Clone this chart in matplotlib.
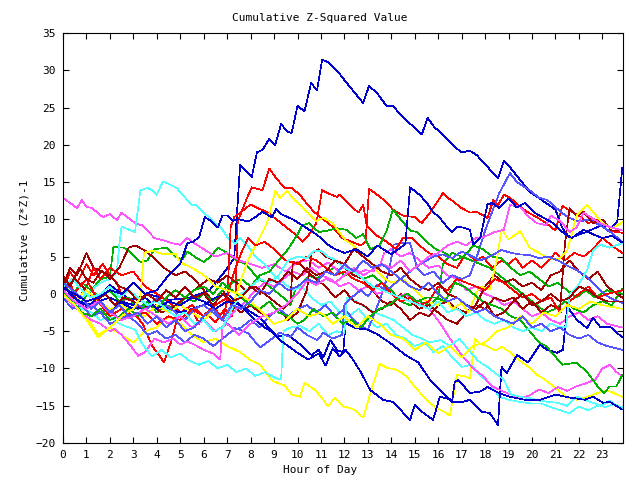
import matplotlib
matplotlib.use("Agg")
import matplotlib.pyplot as plt

# gnuplot-ish colours
RED = "#ff0000"
GREEN = "#00b000"
BLUE = "#0000cc"
MAGENTA = "#ff55ff"
CYAN = "#55ffff"
DARKRED = "#a00000"
YELLOW = "#ffff00"
LIGHTBLUE = "#5555ff"

# (hour, cumulative value)
blue_peak = [(0, 0.5), (0.5, -0.8), (1.15, -1.5), (2, 1.2), (2.85, -0.8), (3.7, -0.1), (4.55, -0.8),
             (5.4, -0.5), (6.25, 0.5), (6.9, 3), (7.3, 4.8), (7.55, 17.3), (8.05, 15.7), (8.27, 19),
             (8.5, 19.3), (8.8, 20.8), (9.05, 20), (9.3, 22.8), (9.55, 21.8), (9.75, 21.6), (10.0, 25.2),
             (10.3, 24.5), (10.58, 28.3), (10.83, 27.3), (11.05, 31.4), (11.3, 31.1), (11.8, 29.5),
             (12.1, 28.3), (12.8, 25.6), (13.05, 27.9), (13.4, 26.9), (13.8, 25.2), (14.07, 25.2),
             (14.5, 23.7), (15.3, 21.4), (15.55, 23.6), (15.85, 22.3), (16.07, 21.8), (16.7, 19.7),
             (17.0, 19), (17.35, 19.2), (17.65, 18.6), (18.55, 15.5), (18.8, 17.8), (19.06, 17),
             (19.9, 13.7), (20.64, 12.1), (21.0, 11.3), (21.3, 8.8), (21.6, 7.5), (22.3, 8.3),
             (22.9, 9.1), (23.4, 9), (23.63, 9.6), (23.85, 16.9)]

blue_low = [(0, 0.3), (1, -1.5), (2, -0.5), (3, -2), (4, -1.5), (5, -2.5), (6, -1.5), (6.5, -0.5), (7, 0),
            (7.55, -1.5), (8.1, -3.2), (8.6, -4.5), (9.2, -5.7), (9.6, -5.5), (10.2, -7), (10.6, -8.2),
            (10.9, -7.5), (11.1, -8.5), (11.4, -6.2), (11.7, -7.6), (11.95, -7.8), (12.05, -3.9),
            (12.5, -4.6), (13.0, -4.8), (13.4, -5.4), (14.0, -6.7), (14.6, -8.2), (15.15, -9.2),
            (15.65, -11.5), (16.2, -13.3), (16.6, -14.5), (17.05, -14.5), (17.35, -14.2), (17.87, -15.8),
            (18.2, -16), (18.55, -17.6), (18.7, -9.8), (18.93, -10.6), (19.36, -8.2), (19.83, -9.2),
            (20.34, -6.8), (20.64, -7.5), (21.07, -7.9), (21.32, -7.5), (21.5, -1.7), (21.92, -3.5),
            (22.35, -4.6), (22.6, -3.2), (22.9, -4.4), (23.33, -4.4), (23.84, -5.8)]

blue_bottom = [(0, 1), (0.5, -0.5), (1, -2), (1.5, -1), (2, -2.5), (2.5, -1), (3, -1.5), (3.5, -0.5),
               (4, -2), (4.5, -1), (5, -1.5), (5.5, -0.5), (6, -1), (6.5, -2), (7, -1), (7.55, -1.5),
               (8.4, -3.2), (9.25, -6.2), (10, -7.9), (10.45, -8.8), (10.9, -8.0), (11.2, -9.6),
               (11.5, -7.3), (11.8, -8.4), (12.05, -7.5), (12.3, -8.5), (12.7, -10.5), (13.1, -12.9),
               (13.65, -14.2), (14.07, -14.5), (14.8, -16.9), (15.0, -14.9), (15.3, -15.8), (15.78, -16.9),
               (16.07, -13.8), (16.6, -14.2), (16.7, -11.9), (16.85, -11.5), (17.35, -13.3), (17.8, -13.1),
               (18.1, -12.5), (18.6, -13.3), (19.05, -13.8), (19.7, -14.2), (20.35, -14.2), (21, -13.5),
               (21.6, -13.9), (22.25, -14.2), (22.6, -13.8), (23.03, -14.6), (23.33, -14.5), (23.84, -15.5)]

blue_mid = [(0, 0.8), (0.5, 0), (1, -1), (1.5, -0.5), (2, 0.5), (2.5, 0), (3, 1.5), (3.5, 0), (4, 0.5),
            (4.5, 2.5), (5, 4), (5.3, 6.8), (5.55, 7), (5.8, 7.6), (6.05, 10.3), (6.35, 9.7), (6.6, 8.9),
            (6.8, 10.5), (7.0, 10.5), (7.25, 9.8), (7.5, 10), (7.9, 9.7), (8.2, 10.3), (8.5, 11), (8.9, 10.3),
            (9.1, 11.4), (9.3, 10.7), (9.8, 10), (10.25, 9.1), (10.7, 8.2), (11.05, 7.4), (11.25, 6.7),
            (11.6, 6), (12.0, 5.5), (12.5, 6), (13, 5), (13.4, 6.5), (14.0, 5.3), (14.6, 6.7), (14.8, 14.3),
            (15.2, 13.3), (15.5, 12.3), (15.78, 11), (16.07, 10.2), (16.4, 8.9), (16.6, 8.3), (16.8, 9.0),
            (17.05, 8.9), (17.35, 8.6), (17.5, 6.6), (17.8, 7.6), (18.1, 12), (18.3, 12.2), (18.6, 11.5),
            (19.0, 12.8), (19.35, 11.6), (19.7, 12.2), (20.1, 10.9), (20.5, 10.2), (20.9, 9.5), (21.3, 8.3),
            (21.7, 7.5), (22.2, 8.6), (22.6, 8.0), (23.0, 7.5), (23.4, 7.8), (23.85, 6.9)]

red_high = [(0, 0.3), (0.3, 3), (0.6, 1.5), (1.0, 4), (1.3, 2.5), (1.7, 4), (2.0, 2.5), (2.3, 1.5), (2.6, -1),
            (3.0, -2.5), (3.4, -4), (3.8, -7), (4.1, -8.2), (4.3, -9.2), (4.6, -6.5), (4.9, -3), (5.2, -3.5),
            (5.5, -2), (5.8, -4), (6.1, -2.5), (6.5, -3.8), (6.9, -2), (7.2, -3), (7.35, -1), (7.45, 9.7),
            (7.85, 12.9), (8.05, 14.3), (8.5, 13.9), (8.8, 16.8), (9.1, 15.5), (9.45, 14.2), (9.75, 14.2),
            (10.1, 13.3), (10.5, 11.7), (10.75, 10.9), (11.1, 10), (11.5, 9), (11.9, 7.5), (12.3, 7),
            (12.7, 6.5), (12.9, 7), (13.05, 14.1), (13.4, 13.3), (13.8, 12.3), (14.07, 11.3), (14.5, 10.5),
            (15.0, 10.3), (15.3, 9.5), (15.65, 10.9), (16.2, 13.5), (16.4, 12.9), (16.7, 12.3), (16.9, 11.7),
            (17.35, 10.9), (17.65, 11), (18.1, 10.2), (18.35, 12.6), (18.55, 11.9), (18.8, 13.3),
            (19.06, 12.9), (19.5, 11.7), (19.8, 11), (20.2, 10.3), (20.6, 9.5), (21.0, 8.5), (21.3, 11.8),
            (21.7, 11), (22.0, 10.5), (22.4, 9.5), (22.8, 10), (23.2, 8.5), (23.85, 8.2)]

red_mid = [(0, 0), (0.3, 1.5), (0.6, -1), (1, 1), (1.3, 3.5), (1.6, 2), (2, 3.5), (2.5, 2.5), (3, 3),
           (3.5, 1), (4, 0), (4.5, -1), (5, -2.5), (5.5, -1.5), (6, -3), (6.5, -2), (6.8, -3.5), (7.0, -1),
           (7.15, 9), (7.3, 10.3), (7.6, 11), (8.0, 12), (8.3, 11.5), (8.7, 11), (9.1, 10), (9.5, 9),
           (9.9, 8), (10.2, 7), (10.5, 8), (10.8, 9.5), (11.05, 13.9), (11.3, 13.5), (11.7, 13),
           (11.8, 13.3), (12.24, 11.9), (12.6, 10.9), (12.8, 11.9), (12.95, 9.2), (13.3, 8), (13.8, 7),
           (14.2, 6), (14.5, 7.5), (14.9, 7.5), (15.2, 6.5), (15.6, 5.5), (16, 5), (16.4, 4), (16.8, 3.5),
           (17.2, 5.5), (17.6, 4.5), (17.9, 5), (18.3, 3.5), (18.7, 4.5), (19.0, 4), (19.3, 4.8),
           (19.6, 3.5), (20.0, 4.5), (20.4, 3.5), (20.7, 4.5), (21.0, 5.5), (21.4, 4.5), (21.8, 5.5),
           (22.2, 5), (22.6, 6), (23.0, 7.5), (23.4, 6.5), (23.85, 5.5)]

red_low = [(0, 0.5), (0.3, -1), (0.6, 0.5), (1, 2), (1.5, -1), (2, -3), (2.5, -2), (3, -3), (3.5, -2.5),
           (4, -4), (4.5, -3), (5, -3.5), (5.5, -2), (6, -3), (6.5, -1.5), (7, -0.5), (7.3, 3), (7.6, 5.5),
           (7.9, 7.5), (8.2, 6.5), (8.6, 7), (9, 6), (9.5, 4.5), (10, 4), (10.4, 5), (10.8, 4.5),
           (11.2, 3.5), (11.6, 2.5), (12, 3), (12.4, 2), (12.8, 1.5), (13.2, 0.5), (13.6, 1.5), (14, 0),
           (14.4, -1), (14.8, -0.5), (15.2, -1.5), (15.6, -1), (16.0, 1), (16.4, 0.5), (16.8, 2),
           (17.2, 1.5), (17.6, 1), (18, 0.5), (18.4, 2), (18.8, 1.5), (19.2, 0.5), (19.6, -0.5), (20, 0),
           (20.4, -1), (20.8, -0.5), (21.2, -2.5), (21.6, -1), (22, 0), (22.4, 1), (22.8, -0.5), (23.2, 0),
           (23.85, 0.5)]

darkred_a = [(0, 1), (0.3, 3.5), (0.6, 2.5), (1, 5.5), (1.3, 3.5), (1.7, 3), (2, 2), (2.4, 3.5), (2.8, 6.2),
             (3.1, 6.5), (3.5, 5.8), (3.9, 4.8), (4.3, 3.5), (4.8, 2.5), (5.2, 3), (5.6, 2), (6, 0.5),
             (6.4, -1), (6.8, 0.5), (7.2, -1.5), (7.6, -2.5), (8.0, -1.5), (8.4, -2.5), (8.8, -3),
             (9.2, -2), (9.6, -3.5), (10, -2.5), (10.4, 0.5), (10.6, 5.5), (10.9, 6), (11.2, 5), (11.6, 4.5),
             (12, 3.5), (12.4, 2.5), (12.8, 2), (13.2, 0.5), (13.6, -1), (14, -1.5), (14.4, 0), (14.8, -1),
             (15.2, -2), (15.6, -1.5), (16, -2.5), (16.4, -3.5), (16.8, -4), (17.2, -2.5), (17.6, -1.5),
             (18, 1), (18.4, 2.5), (18.8, 1.5), (19.2, 2), (19.6, 1), (20, 1.5), (20.4, 0.5), (20.8, 2.5),
             (21.2, 3), (21.6, 4.5), (22, 3), (22.4, 2), (22.8, 3), (23.2, 1), (23.85, -0.5)]

darkred_b = [(0, 0.5), (0.5, 2), (1, 0.5), (1.4, -1), (1.8, 0), (2.2, -1.5), (2.6, -0.5), (3, -1), (3.4, -2),
             (3.8, -1.5), (4.2, -2.5), (4.6, -2), (5, -1), (5.4, 0), (5.8, 1), (6.2, 2), (6.6, 1.5), (7, 2.5),
             (7.4, 1.5), (7.8, 0.5), (8.2, 1), (8.6, 0), (9, -1), (9.4, -2), (9.7, -1), (9.8, 4.3), (10.1, 4),
             (10.4, 3), (10.8, 2), (11.2, 1), (11.6, -0.5), (12, 0.5), (12.4, -1), (12.8, -1.5), (13.2, -2.5),
             (13.6, -2), (14, -1), (14.4, -2), (14.8, -3.5), (15.2, -2.5), (15.6, -3), (16, -1.5),
             (16.4, -1), (16.8, -2), (17.2, -2.5), (17.6, -1.5), (18, -2), (18.4, -0.5), (18.8, -1),
             (19.2, -0.5), (19.6, -2), (20, -1), (20.4, -2.5), (20.8, -1.5), (21.2, -2), (21.4, 6.6),
             (21.6, 11.5), (21.9, 10.5), (22.2, 11), (22.6, 9.5), (23, 10), (23.4, 8.5), (23.85, 8.5)]

darkred_c = [(0, 2.5), (0.3, 1), (0.7, 3.5), (1, 2), (1.3, 1.5), (1.6, 3), (2, 2.5), (2.4, 1), (2.8, 0.5),
             (3.2, -1), (3.6, 0), (4, -1), (4.4, 0.5), (4.8, -0.5), (5.2, 1), (5.6, -0.5), (6, 0), (6.4, -1.5),
             (6.8, 0), (7.2, -1), (7.6, -0.5), (8, 1), (8.4, 0), (8.8, 2), (9.2, 1.5), (9.6, 3), (10, 2),
             (10.4, 3.5), (10.8, 2.5), (11.2, 3), (11.6, 4.5), (12, 4), (12.4, 6), (12.8, 5), (13.2, 4),
             (13.6, 3), (14, 2.5), (14.4, 3.5), (14.8, 2), (15.2, 1), (15.6, 0.5), (16, 1.5), (16.4, 0),
             (16.8, -0.5), (17.2, -1.5), (17.6, -2), (18, -1), (18.4, -3), (18.8, -2.5), (19.2, -1),
             (19.6, 0), (20, -1.5), (20.4, -1), (20.8, 0), (21.2, -1), (21.6, -0.5), (22, 1), (22.4, 0.5),
             (22.8, -0.5), (23.2, -1), (23.85, -1)]

green_a = [(0, 0), (0.4, -1.5), (0.8, -1), (1.2, 0.5), (1.6, 2), (2.0, 2.3), (2.15, 6.3), (2.6, 6.2),
           (2.9, 5.5), (3.3, 4.3), (3.6, 4.5), (3.9, 6), (4.4, 6.2), (4.8, 5), (5.1, 4.6), (5.3, 5.7),
           (5.7, 4.8), (6.0, 4.3), (6.3, 5), (6.6, 6.2), (7, 5.5), (7.4, 4.5), (7.8, 4), (8.2, 2.5),
           (8.6, 1.5), (9, 0.5), (9.4, -0.5), (9.7, -1.5), (9.9, 0.5), (10.2, 1.5), (10.5, 2.5), (10.8, 2),
           (11.2, 3), (11.6, 3.5), (12, 2.5), (12.4, 3), (12.8, 2), (13.2, 2.5), (13.6, 1.5), (14, 0.5),
           (14.4, -1), (14.8, -1.5), (15.2, -1), (15.6, -1.5), (16, -0.5), (16.2, 4), (16.6, 5.5), (17, 5),
           (17.4, 4.5), (17.8, 4), (18.2, 3.5), (18.6, 2.5), (19, 1.5), (19.4, 0.5), (19.8, -0.5),
           (20.2, -1.5), (20.6, -2.5), (21.0, -2), (21.4, -1), (21.8, -2), (22.2, -2.5), (22.6, -1.5),
           (23, -1), (23.4, -1.5), (23.85, 0.7)]

green_b = [(0, 1), (0.4, 0), (0.8, 1.5), (1.2, 0.5), (1.6, -0.5), (2, 0.5), (2.4, -1), (2.8, -0.5), (3.2, -2),
           (3.6, -1), (4, -2.5), (4.4, -1.5), (4.8, -2), (5.2, -0.5), (5.6, -1), (6, 0), (6.4, -1),
           (6.8, 0.5), (7.2, 1.5), (7.6, 2), (8, 1), (8.4, 2.5), (8.8, 3), (9.2, 4.5), (9.6, 6), (10, 8),
           (10.2, 9.2), (10.5, 9.5), (10.9, 8.3), (11.3, 8.5), (11.7, 8.8), (12.1, 8.6), (12.5, 7.5),
           (12.8, 8), (13.1, 6), (13.5, 6.5), (13.8, 8.5), (14.07, 11.3), (14.4, 10), (14.8, 8.5),
           (15.1, 8.3), (15.5, 7), (15.9, 6), (16.3, 5.5), (16.7, 4.5), (17.1, 5), (17.5, 6.5), (17.9, 6),
           (18.3, 5), (18.7, 4.8), (19.1, 3.5), (19.5, 2.5), (19.9, 3), (20.3, 2), (20.7, 1), (21.1, 1.5),
           (21.5, 0.5), (21.9, -0.5), (22.3, 0.5), (22.7, -0.5), (23.2, 0.5), (23.85, 0)]

green_c = [(0, 0.5), (0.4, -1), (0.8, -2.5), (1.2, -3), (1.6, -2), (2, -3.5), (2.4, -3), (2.8, -2), (3.2, -3),
           (3.6, -1), (4, -2), (4.4, -0.5), (4.8, 0.5), (5.2, -0.5), (5.6, 0.5), (6, 1), (6.4, 0), (6.8, 1.5),
           (7.2, 0.5), (7.6, -0.5), (8.0, -1.5), (8.4, -2), (8.8, -1), (9.2, -2.5), (9.6, -3), (10, -4),
           (10.3, -3.5), (10.7, -2), (11.1, -3), (11.5, -2.5), (11.9, -4), (12.3, -3.5), (12.7, -4.5),
           (13.1, -3), (13.5, -2), (13.9, -1.5), (14.3, -0.5), (14.7, 0), (15.1, -1), (15.5, -0.5),
           (15.9, -0.5), (16.3, -1), (16.7, 1.5), (17.1, 1), (17.5, 0), (17.9, -1), (18.3, -1.5), (18.7, -2),
           (19.1, -3), (19.5, -3.5), (19.9, -5), (20.3, -6.5), (20.6, -7), (21.1, -8.8), (21.3, -9.5),
           (21.9, -9.2), (22.35, -10.5), (22.8, -12.4), (23.05, -13.3), (23.33, -12.4), (23.6, -12.4),
           (23.84, -10.9)]

magenta_top = [(0, 12.9), (0.6, 11.5), (0.8, 12.6), (1, 11.7), (1.24, 11.5), (1.7, 10.3), (2, 10.7),
               (2.3, 9.9), (2.5, 10.9), (3.07, 9.5), (3.37, 9.2), (3.9, 7.5), (4.26, 7.2), (4.65, 6.8),
               (5, 6.6), (5.3, 7.5), (5.5, 7), (6, 6), (6.5, 5), (7, 5.5), (7.5, 4.5), (8, 4), (8.5, 3.5),
               (9, 4), (9.5, 3), (10, 4.3), (10.5, 4.5), (10.9, 3.5), (11.3, 4.2), (11.7, 3.2), (12.1, 3.6),
               (12.6, 2.8), (12.9, 3.2), (13.2, 3), (13.5, 3.6), (13.7, 5.5), (14.0, 6), (14.4, 5), (14.8, 5.5),
               (15.2, 4.5), (15.6, 3.5), (16, 3.8), (16.4, 2.5), (16.8, 2), (17.2, 0.5), (17.6, 1), (18, 0),
               (18.4, -0.5), (18.8, -1.5), (19.2, -1), (19.6, -2), (20, -3), (20.4, -2.5), (20.8, -3.5),
               (21.2, -4), (21.6, -3), (22, -2.5), (22.4, -3.5), (22.8, -3), (23.2, -4), (23.85, -4.5)]

magenta_low = [(0, 0), (0.4, -1.5), (0.8, -2.5), (1.2, -3.5), (1.6, -4), (2, -5), (2.2, -4.7), (2.5, -5.5),
               (2.9, -7), (3.2, -8.3), (3.5, -7.8), (3.9, -6), (4.3, -6.5), (4.7, -6), (5.0, -6.8),
               (5.3, -6.4), (5.6, -6.8), (6, -7.5), (6.4, -8), (6.7, -8.8), (6.8, -4.5), (7.0, -3.5),
               (7.4, -2), (7.8, -1), (8.2, 0.5), (8.6, 1.5), (9, 1), (9.4, 2), (9.8, 3), (10.2, 2.5),
               (10.6, 3.5), (11, 2.5), (11.4, 2), (11.8, 1), (12.2, 1.5), (12.6, 0.5), (13, 1), (13.4, 0),
               (13.8, 0.5), (14.2, -0.5), (14.6, 0), (15, -1), (15.65, -2.1), (16.1, -4), (16.5, -6),
               (17.0, -8.2), (17.5, -10), (17.9, -11), (18.3, -12.4), (18.7, -13), (19.1, -13.5), (19.5, -14),
               (19.9, -13.6), (20.3, -12.8), (20.7, -13.3), (21.1, -12.5), (21.5, -13), (21.9, -12.4),
               (22.3, -12), (22.7, -11.5), (23.0, -10), (23.33, -9.5), (23.6, -10.5), (23.84, -11)]

magenta_rise = [(0, 0.5), (0.5, -1), (1, -2), (1.5, -1), (2, -2.5), (2.5, -3.5), (3, -3), (3.5, -2), (4, -3),
                (4.5, -4), (5, -3), (5.5, -4.5), (6, -3.5), (6.5, -5), (7, -4), (7.5, -5.5), (8, -4),
                (8.5, -3), (9, -2.5), (9.5, -1.5), (10, 0), (10.4, 1.8), (10.8, 1.2), (11.2, 2), (11.6, 1.5),
                (12, 2.5), (12.4, 3.5), (12.8, 2.5), (13.2, 3.2), (13.6, 4), (14, 3.5), (14.4, 4.5), (14.8, 3),
                (15.2, 4), (15.6, 5), (16, 5.5), (16.4, 6.5), (16.8, 7), (17.2, 6.5), (17.6, 7.5), (18, 7.7),
                (18.4, 8.3), (18.8, 8.6), (19.06, 11.9), (19.5, 11.7), (19.8, 10.5), (20.2, 9.5), (20.6, 9.2),
                (20.8, 10.5), (21.2, 9.8), (21.6, 8.3), (21.9, 8.9), (22.2, 10.9), (22.5, 10.3), (22.9, 9.5),
                (23.3, 9), (23.85, 8.5)]

cyan_top = [(0, 0.5), (0.4, -1), (0.8, -0.5), (1.2, 0.5), (1.6, 1.5), (2, 2), (2.3, 3), (2.4, 6.6), (2.5, 9),
            (3.07, 8.3), (3.3, 13.9), (3.6, 14.2), (3.8, 13.9), (4, 13.3), (4.26, 15.1), (4.55, 14.7),
            (4.85, 14.2), (5.1, 13.3), (5.5, 11.9), (5.7, 11.9), (5.97, 11), (6.5, 9.5), (6.8, 8.6),
            (7.04, 7.5), (7.33, 6.7), (7.55, 7.5), (7.85, 6.6), (8.2, 5), (8.6, 4), (9, 2.5), (9.4, 1.5),
            (9.8, 0.5), (10.2, 1), (10.6, -0.5), (11, -1.5), (11.4, -1), (11.8, -2.5), (12.2, -3), (12.6, -2),
            (13, -3.5), (13.4, -4.5), (13.8, -4), (14.2, -5.5), (14.6, -6), (15, -7), (15.4, -6.5),
            (15.8, -7.8), (16.2, -7), (16.6, -8.5), (17, -9.8), (17.4, -9.5), (17.8, -11), (18.2, -12),
            (18.6, -13.8), (19, -14.2), (19.5, -14.5), (20, -14.7), (20.4, -14.7), (20.8, -15.2),
            (21.2, -15.6), (21.6, -16), (22, -15.1), (22.4, -15.6), (22.8, -15), (23.1, -14.8),
            (23.33, -14.3), (23.6, -15), (23.84, -15.5)]

cyan_low = [(0, 0), (0.4, -1), (0.8, -2), (1.2, -2.5), (1.6, -3.5), (2, -3), (2.4, -4), (2.8, -4.5),
            (3.07, -4.8), (3.4, -6.8), (3.8, -8.4), (4.2, -7.5), (4.6, -8.5), (5, -8), (5.4, -9), (5.8, -9.5),
            (6.2, -9), (6.6, -10), (7, -9.5), (7.4, -10.5), (7.8, -10), (8.2, -11), (8.6, -10.5), (9, -11.2),
            (9.3, -11.5), (9.4, -5), (9.7, -4.5), (10.1, -4.3), (10.5, -5), (10.9, -4), (11.3, -5.5),
            (11.7, -5), (12.0, -5.3), (12.1, -0.5), (12.5, -1), (12.9, -1.8), (13.3, -2.5), (13.7, -3),
            (14.1, -3.5), (14.5, -4.5), (14.9, -5.5), (15.3, -6), (15.65, -6.5), (16.1, -6.2), (16.5, -7),
            (16.9, -6), (17.3, -7.5), (17.7, -9), (18.1, -9.8), (18.5, -10.8), (18.8, -11.5), (19.1, -13.5),
            (19.5, -13.8), (19.9, -14), (20.3, -14.3), (20.7, -14.5), (21.1, -14.6), (21.5, -15),
            (21.9, -13.8), (22.3, -14.3), (22.7, -14.7), (23.1, -15.2), (23.5, -14.8), (23.85, -15.2)]

cyan_end = [(0, 1), (0.4, 2), (0.8, 0.5), (1.2, -0.5), (1.6, 0), (2, 1), (2.4, -0.5), (2.8, 0.5), (3.2, -0.5),
            (3.6, -1.5), (4, -1), (4.4, -2), (4.8, -3), (5.2, -2.5), (5.6, -4), (6, -3.5), (6.4, -5),
            (6.8, -4.5), (7.2, -2), (7.6, 0), (8, 1), (8.4, 2), (8.8, 1.5), (9.2, 2.5), (9.6, 4.5), (10, 5),
            (10.4, 4.8), (10.7, 5.8), (11, 5.8), (11.3, 5), (11.6, 4.6), (12, 3.5), (12.4, 3), (12.8, 2),
            (13.2, 1), (13.6, 0.5), (14, 0), (14.4, -0.5), (14.8, -1), (15.2, -1.5), (15.6, -2), (16, -1),
            (16.4, -2.5), (16.8, -2), (17.2, -3), (17.6, -2.5), (18, -3.5), (18.4, -4), (18.8, -3.5),
            (19.2, -4.5), (19.6, -5), (20, -4.5), (20.4, -5), (20.8, -4), (21.2, -4.5), (21.45, -4.4),
            (21.6, 0), (21.9, 0.8), (22.35, 3.2), (22.6, 5.8), (22.9, 6.6), (23.3, 6.2), (23.84, 6.8)]

yellow_bottom = [(0, 0.3), (0.5, -1.5), (1, -3), (1.5, -5.5), (2, -4.5), (2.5, -5.5), (3, -6.5), (3.5, -5),
                 (4, -4.5), (4.5, -3), (5, -4), (5.5, -5.5), (6, -6.5), (6.5, -6), (7, -7), (7.55, -7.8),
                 (8.0, -8.9), (8.4, -9.5), (8.95, -11.7), (9.45, -12.3), (9.76, -13.5), (10.1, -13.8),
                 (10.3, -11.9), (10.75, -12.9), (11.1, -14.2), (11.3, -15.1), (11.6, -13.9), (11.94, -15.1),
                 (12.24, -15.3), (12.54, -15.8), (12.8, -16.6), (13.1, -13.4), (13.5, -9.4), (13.8, -9.9),
                 (14.25, -10.2), (14.67, -11.1), (14.93, -12.2), (15.5, -14.2), (15.86, -15.2), (16.07, -15.5),
                 (16.5, -16.3), (16.8, -10.9), (17.05, -11), (17.35, -11.3), (17.57, -6), (17.78, -6.7),
                 (18.08, -7), (18.42, -7.6), (18.72, -7.1), (19.06, -7.8), (19.5, -9), (19.9, -9.9),
                 (20.2, -10.8), (20.64, -11.7), (21.07, -12.8), (21.5, -13.9), (21.92, -14.2), (22.35, -13.8),
                 (22.8, -13.3), (23.2, -12.9), (23.84, -13.8)]

yellow_jump = [(0, 0), (0.5, -1), (1, 0.5), (1.5, -1), (2, -2), (2.5, -1.5), (3, -2.5), (3.5, -3), (4, -1.5),
               (4.5, -2.5), (5, -1.5), (5.5, -2.5), (6, -3.5), (6.5, -2), (7, -1), (7.3, -1), (7.6, 2),
               (7.9, 4.6), (8.3, 7), (8.7, 9.5), (9.05, 13.8), (9.25, 12.9), (9.55, 13.8), (9.9, 12.5),
               (10.2, 11.7), (10.5, 10.7), (10.8, 9.8), (11.1, 10.2), (11.5, 9.5), (11.8, 8.2), (12.05, 7.2),
               (12.4, 6.5), (12.8, 5), (13.1, 4.3), (13.4, 3), (13.7, 2.1), (14.0, 1.5), (14.5, 2), (15, 0.5),
               (15.5, -1), (16, -1.5), (16.3, -0.5), (16.6, -2), (17, -1.2), (17.3, -2.5), (17.6, 0), (17.8, 1),
               (18.2, 0.6), (18.5, 4.6), (18.7, 8.7), (19.0, 7.3), (19.5, 8.4), (19.9, 6.2), (20.3, 5.5),
               (20.7, 4.8), (21.1, 4.6), (21.5, 5.8), (21.9, 10.5), (22.35, 11.9), (22.6, 11), (23.0, 9.5),
               (23.4, 8.8), (23.85, 9.6)]

yellow_left = [(0, 0), (0.5, -1.5), (1, -3.5), (1.5, -5.8), (2, -4.5), (2.5, -3), (3, -2), (3.3, -0.5),
               (3.45, 5.5), (3.8, 5.8), (4.3, 5.3), (4.8, 5.4), (5.0, 4.2), (5.5, 3.5), (6, 2.5), (6.5, 1),
               (7, 0.5), (7.5, 0), (8, -1), (8.5, -2.5), (9, -4), (9.5, -3.5), (10, -2), (10.5, -3), (11, -2.5),
               (11.5, -4), (12, -3), (12.5, -4.5), (13, -3), (13.5, -4), (14, -5.5), (14.5, -6), (15, -7.5),
               (15.5, -6.5), (16, -8), (16.5, -7), (17, -8.5), (17.5, -7), (18, -6.5), (18.5, -5), (19, -4.5),
               (19.5, -3), (20, -4), (20.5, -2.5), (21, -3), (21.5, -1.5), (22, -2), (22.5, -1), (23, -1.5),
               (23.85, -2)]

lightblue_peak = [(0, 0.5), (0.4, -1), (0.8, -2), (1.2, -1.5), (1.6, -2.5), (2, -2), (2.4, -3.5), (2.8, -3),
                  (3.2, -4), (3.6, -5.5), (4, -5), (4.4, -6), (4.8, -5.5), (5.2, -6.5), (5.6, -5.5), (6, -6),
                  (6.4, -7), (6.8, -6), (7.2, -5), (7.6, -4.5), (8, -3.5), (8.4, -4.5), (8.8, -3), (9.2, -2),
                  (9.6, -3), (10, -2), (10.4, -1.5), (10.8, -2.5), (11.2, -1.5), (11.6, -3), (12, -2),
                  (12.4, -3.5), (12.8, -4.5), (13.0, -4.8), (13.3, -2.5), (13.6, 0), (13.9, 3), (14.1, 6.6),
                  (14.4, 6.8), (14.8, 6.8), (15.1, 3.5), (15.4, 2.5), (15.8, 3), (16.2, 1.5), (16.6, 2.5),
                  (17, 2), (17.35, 2.5), (17.7, 5.5), (18.0, 8.5), (18.3, 11), (18.6, 13.5), (19.06, 16.2),
                  (19.36, 15), (19.9, 13.9), (20.3, 12.9), (20.65, 12.6), (21.3, 10.8), (21.6, 10.2),
                  (22, 9.7), (22.45, 10), (22.9, 9.2), (23.4, 8.2), (23.84, 7)]

lightblue_mid = [(0, -0.5), (0.4, -2), (0.8, -1.5), (1.2, -3), (1.6, -2.5), (2, -4), (2.4, -3.5), (2.8, -2.5),
                 (3.2, -1.5), (3.6, -2), (4, -0.5), (4.4, -1.5), (4.8, -2.5), (5.2, -3.5), (5.6, -2), (6, -1.5),
                 (6.4, -2.5), (6.8, -3.5), (7.2, -4.5), (7.55, -4.8), (7.9, -5.3), (8.4, -7.2), (8.7, -6.5),
                 (9.25, -5.2), (9.7, -5.8), (10.0, -4.5), (10.4, -5.5), (10.85, -6.2), (11.1, -5.2), (11.5, -6),
                 (11.9, -5.5), (12.0, -1.5), (12.3, -0.5), (12.7, 0.5), (13.0, -0.3), (13.4, 1.2), (13.8, 0.5),
                 (14.2, 1.5), (14.6, 2.5), (15, 3.5), (15.4, 4.3), (15.8, 5), (16.2, 5.3), (16.6, 4.8), (17, 5.7),
                 (17.35, 5.2), (17.8, 4.5), (18.2, 5), (18.7, 5.9), (19.1, 5.5), (19.5, 5.3), (19.9, 5.2),
                 (20.3, 4.8), (20.7, 5), (21.1, 4.5), (21.5, 3.8), (21.9, 3.2), (22.3, 2.4), (22.8, 0.8),
                 (23.3, -0.5), (23.84, -1.2)]

lightblue_low = [(0, 1.5), (0.4, 0.5), (0.8, -0.5), (1.2, -2), (1.6, -1), (2, -2.5), (2.4, -1.5), (2.8, -3),
                 (3.2, -2.5), (3.6, -4), (4, -3), (4.4, -4.5), (4.8, -3.5), (5.2, -5), (5.6, -4.5), (6, -3),
                 (6.4, -2), (6.8, -3.5), (7.2, -1.5), (7.6, -2), (8, -1), (8.4, 0.5), (8.8, 0), (9.2, 1.5),
                 (9.6, 0.5), (10, 1), (10.4, 2), (10.8, 1.5), (11.2, 3), (11.6, 2.5), (12, 4), (12.4, 3),
                 (12.8, 4.5), (13.2, 3.5), (13.6, 4), (14, 3), (14.4, 2), (14.8, 1), (15.2, 0.5), (15.6, 1.5),
                 (16, 0), (16.4, -1), (16.8, -0.5), (17.2, -1.5), (17.6, -2.5), (18, -2), (18.4, -3),
                 (18.8, -3.5), (19.2, -4), (19.6, -3), (20, -4.5), (20.4, -4), (20.8, -5), (21.2, -4.5),
                 (21.6, -5.5), (22, -6), (22.4, -5.5), (22.8, -6.5), (23.2, -7), (23.85, -7.5)]

series = [
    (red_high, RED), (green_a, GREEN), (blue_peak, BLUE), (magenta_top, MAGENTA), (cyan_top, CYAN),
    (darkred_a, DARKRED), (yellow_bottom, YELLOW), (lightblue_peak, LIGHTBLUE),
    (red_mid, RED), (green_b, GREEN), (blue_low, BLUE), (magenta_low, MAGENTA), (cyan_low, CYAN),
    (darkred_b, DARKRED), (yellow_jump, YELLOW), (lightblue_mid, LIGHTBLUE),
    (red_low, RED), (green_c, GREEN), (blue_bottom, BLUE), (magenta_rise, MAGENTA), (cyan_end, CYAN),
    (darkred_c, DARKRED), (yellow_left, YELLOW), (lightblue_low, LIGHTBLUE),
    (blue_mid, BLUE),
]

x_ticks = list(range(0, 24))
y_ticks = list(range(-20, 36, 5))

font = "DejaVu Sans Mono"
fig = plt.figure(figsize=(6.4, 4.8), dpi=100)
ax = fig.add_axes([63 / 640, 37 / 480, 560 / 640, 410 / 480])

# thin 1 pixel lines like the gd terminal
for pts, col in series:
    hours = [p[0] for p in pts]
    vals = [p[1] for p in pts]
    ax.plot(hours, vals, color=col, lw=0.5, antialiased=False)

ax.set_xlim(0, 23.88)
ax.set_ylim(-20, 35)
ax.set_xticks(x_ticks)
ax.set_yticks(y_ticks)
ax.tick_params(direction="in", top=True, right=True, length=4, width=0.8, labelsize=8, pad=5)
for lab in ax.get_xticklabels() + ax.get_yticklabels():
    lab.set_family(font)
for s in ax.spines.values():
    s.set_linewidth(0.8)

fig.text(0.5, 0.962, "Cumulative Z-Squared Value", ha="center", va="center", family=font, fontsize=8)
fig.text(0.5, 0.021, "Hour of Day", ha="center", va="center", family=font, fontsize=8)
fig.text(0.039, 0.5, "Cumulative (Z*Z)-1", ha="center", va="center", rotation=90, family=font, fontsize=8)

fig.savefig("out.png", dpi=100)
